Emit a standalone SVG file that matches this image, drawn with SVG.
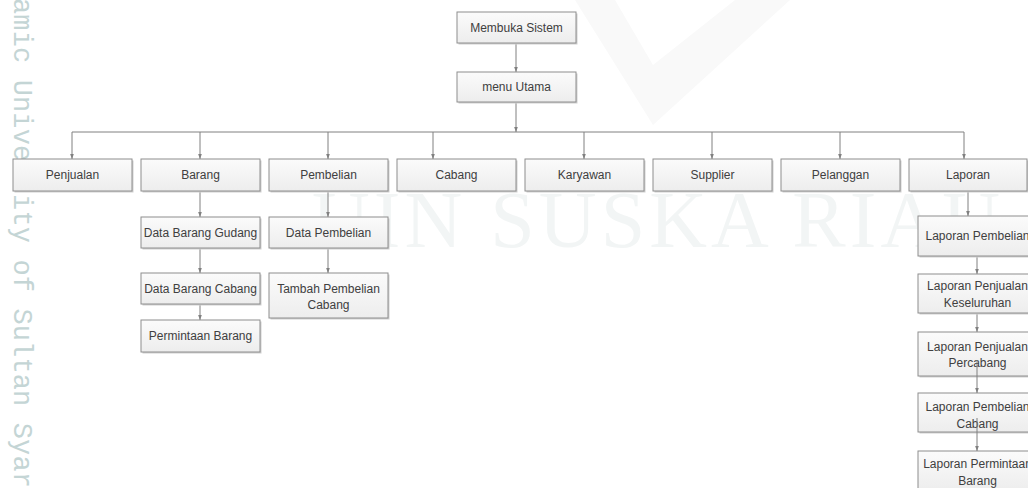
<svg xmlns="http://www.w3.org/2000/svg" width="1028" height="488" viewBox="0 0 1028 488">
<style>
.sh{fill:#cfcfcf}
.bx{fill:url(#g);stroke:#8e8e8e;stroke-width:1}
.t{font-family:"Liberation Sans",Arial,sans-serif;font-size:12px;fill:#404040;text-anchor:middle}
.c{stroke:#808080;stroke-width:1;fill:none;marker-end:url(#a)}
.cl{stroke:#808080;stroke-width:1;fill:none}
.wm{font-family:"Liberation Serif","Times New Roman",serif;font-size:80px;fill:#f2f5f5}
.wv{font-family:"Liberation Mono","Courier New",monospace;font-size:27px;fill:#c4d5d5}
</style>
<defs>
<linearGradient id="g" x1="0" y1="0" x2="0" y2="1">
<stop offset="0" stop-color="#fbfbfb"/>
<stop offset="1" stop-color="#ededed"/>
</linearGradient>
<marker id="a" markerUnits="userSpaceOnUse" markerWidth="5" markerHeight="5" viewBox="0 0 6 6" refX="6" refY="3" orient="auto">
<path d="M0,0.8 L6,3 L0,5.2 z" fill="#808080"/>
</marker>
</defs>
<rect width="1028" height="488" fill="#ffffff"/>
<g id="watermark">
<polygon points="575,0 653,125 790,0 735,0 653,65 615,0" fill="#f9f9f9"/>
<text class="wm" x="312" y="247" textLength="688" lengthAdjust="spacing">UIN SUSKA RIAU</text>
<text class="wv" transform="translate(14,-2) rotate(90)" textLength="490" lengthAdjust="spacing">amic University of Sultan Syar</text>
</g>
<g id="connectors">
<line class="c" x1="516" y1="43" x2="516" y2="72"/>
<line class="c" x1="516" y1="102" x2="516" y2="132"/>
<line class="cl" x1="72" y1="132" x2="964" y2="132"/>
<line class="c" x1="72" y1="132" x2="72" y2="159"/>
<line class="c" x1="200" y1="132" x2="200" y2="159"/>
<line class="c" x1="328" y1="132" x2="328" y2="159"/>
<line class="c" x1="433" y1="132" x2="433" y2="159"/>
<line class="c" x1="584" y1="132" x2="584" y2="159"/>
<line class="c" x1="712" y1="132" x2="712" y2="159"/>
<line class="c" x1="840" y1="132" x2="840" y2="159"/>
<line class="c" x1="964" y1="132" x2="964" y2="159"/>
<line class="c" x1="200" y1="191" x2="200" y2="217"/>
<line class="c" x1="200" y1="248" x2="200" y2="273"/>
<line class="c" x1="200" y1="304" x2="200" y2="320"/>
<line class="c" x1="328" y1="191" x2="328" y2="217"/>
<line class="c" x1="328" y1="248" x2="328" y2="273"/>
<line class="c" x1="968" y1="191" x2="968" y2="216"/>
<line class="c" x1="977" y1="256" x2="977" y2="274"/>
<line class="c" x1="977" y1="313" x2="977" y2="332"/>
</g>
<g id="n-membuka"><rect class="sh" x="458.5" y="13.5" width="119" height="31"/><rect class="bx" x="457" y="12" width="119" height="31"/><text class="t" x="516.5" y="31.5">Membuka Sistem</text></g>
<g id="n-menu"><rect class="sh" x="458.5" y="73.5" width="119" height="30"/><rect class="bx" x="457" y="72" width="119" height="30"/><text class="t" x="516.5" y="91">menu Utama</text></g>
<g id="n-penjualan"><rect class="sh" x="14.5" y="160.5" width="119" height="32"/><rect class="bx" x="13" y="159" width="119" height="32"/><text class="t" x="72.5" y="179">Penjualan</text></g>
<g id="n-barang"><rect class="sh" x="142.5" y="160.5" width="119" height="32"/><rect class="bx" x="141" y="159" width="119" height="32"/><text class="t" x="200.5" y="179">Barang</text></g>
<g id="n-pembelian"><rect class="sh" x="270.5" y="160.5" width="119" height="32"/><rect class="bx" x="269" y="159" width="119" height="32"/><text class="t" x="328.5" y="179">Pembelian</text></g>
<g id="n-cabang"><rect class="sh" x="398.5" y="160.5" width="119" height="32"/><rect class="bx" x="397" y="159" width="119" height="32"/><text class="t" x="456.5" y="179">Cabang</text></g>
<g id="n-karyawan"><rect class="sh" x="526.5" y="160.5" width="119" height="32"/><rect class="bx" x="525" y="159" width="119" height="32"/><text class="t" x="584.5" y="179">Karyawan</text></g>
<g id="n-supplier"><rect class="sh" x="654.5" y="160.5" width="119" height="32"/><rect class="bx" x="653" y="159" width="119" height="32"/><text class="t" x="712.5" y="179">Supplier</text></g>
<g id="n-pelanggan"><rect class="sh" x="782.5" y="160.5" width="119" height="32"/><rect class="bx" x="781" y="159" width="119" height="32"/><text class="t" x="840.5" y="179">Pelanggan</text></g>
<g id="n-laporan"><rect class="sh" x="910.5" y="160.5" width="118" height="32"/><rect class="bx" x="909" y="159" width="118" height="32"/><text class="t" x="968" y="179">Laporan</text></g>
<g id="n-dbg"><rect class="sh" x="142.5" y="218.5" width="119" height="31"/><rect class="bx" x="141" y="217" width="119" height="31"/><text class="t" x="200.5" y="236.5">Data Barang Gudang</text></g>
<g id="n-dbc"><rect class="sh" x="142.5" y="274.5" width="119" height="31"/><rect class="bx" x="141" y="273" width="119" height="31"/><text class="t" x="200.5" y="292.5">Data Barang Cabang</text></g>
<g id="n-pb"><rect class="sh" x="142.5" y="321.5" width="119" height="32"/><rect class="bx" x="141" y="320" width="119" height="32"/><text class="t" x="200.5" y="340">Permintaan Barang</text></g>
<g id="n-dp"><rect class="sh" x="270.5" y="218.5" width="119" height="31"/><rect class="bx" x="269" y="217" width="119" height="31"/><text class="t" x="328.5" y="236.5">Data Pembelian</text></g>
<g id="n-tpc"><rect class="sh" x="270.5" y="274.5" width="119" height="45"/><rect class="bx" x="269" y="273" width="119" height="45"/><text class="t" x="328.5" y="292.5">Tambah Pembelian</text><text class="t" x="328.5" y="309.3">Cabang</text></g>
<g id="n-lp"><rect class="sh" x="919.5" y="217.5" width="119" height="40"/><rect class="bx" x="918" y="216" width="119" height="40"/><text class="t" x="977.5" y="240.3">Laporan Pembelian</text></g>
<g id="n-lpk"><rect class="sh" x="919.5" y="275.5" width="119" height="39"/><rect class="bx" x="918" y="274" width="119" height="39"/><text class="t" x="977.5" y="290.3">Laporan Penjualan</text><text class="t" x="977.5" y="307">Keseluruhan</text></g>
<g id="n-lpp"><rect class="sh" x="919.5" y="333.5" width="119" height="44"/><rect class="bx" x="918" y="332" width="119" height="44"/><text class="t" x="977.5" y="351">Laporan Penjualan</text><text class="t" x="977.5" y="367">Percabang</text></g>
<g id="n-lpc"><rect class="sh" x="919.5" y="394.5" width="119" height="39"/><rect class="bx" x="918" y="393" width="119" height="39"/><text class="t" x="977.5" y="411">Laporan Pembelian</text><text class="t" x="977.5" y="427.5">Cabang</text></g>
<g id="n-lpm"><rect class="sh" x="919.5" y="452.5" width="119" height="40"/><rect class="bx" x="918" y="451" width="119" height="40"/><text class="t" x="977.5" y="467.5">Laporan Permintaan</text><text class="t" x="977.5" y="485">Barang</text></g>
<g id="connectors-over">
<line class="c" x1="977" y1="360" x2="977" y2="393"/>
<line class="c" x1="977" y1="418" x2="977" y2="451"/>
</g>
</svg>
